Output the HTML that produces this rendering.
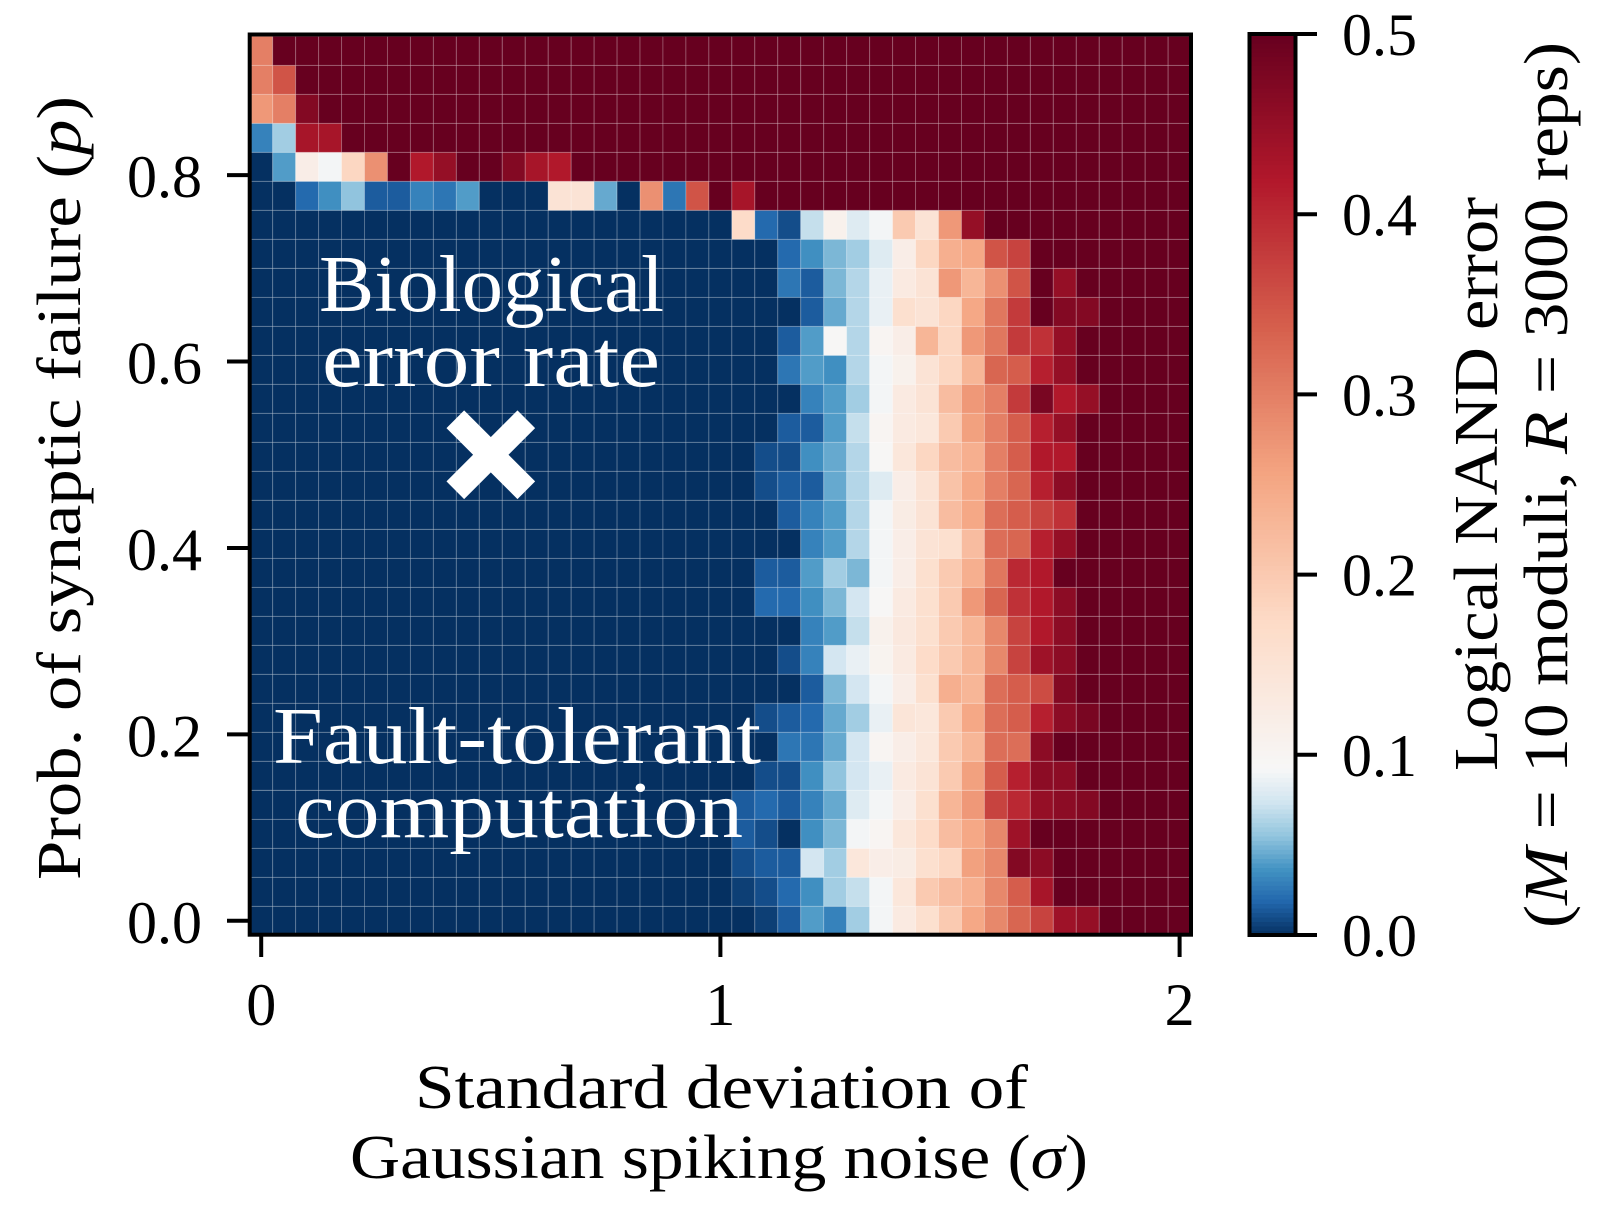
<!DOCTYPE html>
<html><head><meta charset="utf-8"><style>
html,body{margin:0;padding:0;background:#fff;}
svg{display:block;font-family:"Liberation Serif","DejaVu Serif",serif;}
</style></head><body>
<svg id="chart" width="1624" height="1222" viewBox="0 0 1624 1222" xmlns="http://www.w3.org/2000/svg">
<rect width="1624" height="1222" fill="#fff"/>
<g id="cells"></g>
<g id="annot">
<text x="319" y="311" font-size="80" fill="#fff" textLength="345" lengthAdjust="spacingAndGlyphs">Biological</text>
<text x="322" y="386" font-size="80" fill="#fff" textLength="338" lengthAdjust="spacingAndGlyphs">error rate</text>
<g id="xmark" stroke="#fff" stroke-width="25" stroke-linecap="butt"></g>
<text x="273" y="763" font-size="80" fill="#fff" textLength="488" lengthAdjust="spacingAndGlyphs">Fault-tolerant</text>
<text x="295" y="837" font-size="80" fill="#fff" textLength="448" lengthAdjust="spacingAndGlyphs">computation</text>
</g>
<rect x="249.7" y="34.5" width="941.3" height="900.2" fill="none" stroke="#000" stroke-width="4"/>
<g id="xaxis"></g>
<g id="yaxis"></g>
<text x="415" y="1108" font-size="62" textLength="613" lengthAdjust="spacingAndGlyphs">Standard deviation of</text>
<text x="350" y="1178" font-size="62" textLength="738" lengthAdjust="spacingAndGlyphs">Gaussian spiking noise (<tspan font-style="italic">σ</tspan>)</text>
<text transform="translate(80,880) rotate(-90)" font-size="62" textLength="784" lengthAdjust="spacingAndGlyphs">Prob. of synaptic failure (<tspan font-style="italic">p</tspan>)</text>
<g id="cbar"></g>
<text transform="translate(1497,771) rotate(-90)" font-size="62" textLength="574" lengthAdjust="spacingAndGlyphs">Logical NAND error</text>
<text transform="translate(1567,928) rotate(-90)" font-size="62" textLength="886" lengthAdjust="spacingAndGlyphs">(<tspan font-style="italic">M</tspan> = 10 moduli, <tspan font-style="italic">R</tspan> = 3000 reps)</text>
</svg>
<script>
const NS = "http://www.w3.org/2000/svg";
const sigmaValues = [0,0.05,0.1,0.15,0.2,0.25,0.3,0.35,0.4,0.45,0.5,0.55,0.6,0.65,0.7,0.75,0.8,0.85,0.9,0.95,1.0,1.05,1.1,1.15,1.2,1.25,1.3,1.35,1.4,1.45,1.5,1.55,1.6,1.65,1.7,1.75,1.8,1.85,1.9,1.95,2.0];
const pValues = [0,0.0311,0.0622,0.0933,0.1244,0.1556,0.1867,0.2178,0.2489,0.28,0.3111,0.3422,0.3733,0.4044,0.4356,0.4667,0.4978,0.5289,0.56,0.5911,0.6222,0.6533,0.6844,0.7156,0.7467,0.7778,0.8089,0.84,0.8711,0.9022,0.9333];
const xTicks = [0,1,2];
const xTickLabels = ["0","1","2"];
const yTicks = [0,0.2,0.4,0.6,0.8];
const yTickLabels = ["0.0","0.2","0.4","0.6","0.8"];
const cbarTicks = [0,0.1,0.2,0.3,0.4,0.5];
const cbarTickLabels = ["0.0","0.1","0.2","0.3","0.4","0.5"];
const markerSigma = [0.50];
const markerP = [0.5];
const errGrid = [
[0,0,0,0,0,0,0,0,0,0,0,0,0,0,0,0,0,0,0,0,0,0,.005,.015,.04,.03,.06,.09,.13,.16,.2,.25,.29,.33,.37,.44,.45,.5,.5,.5,.5],
[0,0,0,0,0,0,0,0,0,0,0,0,0,0,0,0,0,0,0,0,0,.005,.01,.02,.035,.06,.07,.09,.14,.2,.22,.24,.29,.34,.43,.5,.5,.5,.5,.5,.5],
[0,0,0,0,0,0,0,0,0,0,0,0,0,0,0,0,0,0,0,0,0,.01,.015,.015,.075,.06,.14,.12,.125,.16,.18,.26,.29,.47,.46,.5,.5,.5,.5,.5,.5],
[0,0,0,0,0,0,0,0,0,0,0,0,0,0,0,0,0,0,0,0,0,.015,.01,0,.035,.05,.09,.1,.14,.17,.22,.25,.29,.44,.5,.5,.5,.5,.5,.5,.5],
[0,0,0,0,0,0,0,0,0,0,0,0,0,0,0,0,0,0,0,0,0,.015,.02,.015,.03,.045,.08,.09,.12,.16,.23,.27,.37,.4,.45,.46,.47,.5,.5,.5,.5],
[0,0,0,0,0,0,0,0,0,0,0,0,0,0,0,0,0,0,0,0,0,0,.01,.01,.035,.055,.075,.085,.13,.15,.2,.26,.34,.41,.46,.46,.5,.5,.5,.5,.5],
[0,0,0,0,0,0,0,0,0,0,0,0,0,0,0,0,0,0,0,0,0,0,0,.025,.025,.045,.075,.1,.12,.14,.2,.23,.32,.32,.46,.5,.5,.5,.5,.5,.5],
[0,0,0,0,0,0,0,0,0,0,0,0,0,0,0,0,0,0,0,0,0,0,.01,.015,.02,.045,.06,.085,.145,.14,.2,.25,.32,.34,.41,.46,.48,.5,.5,.5,.5],
[0,0,0,0,0,0,0,0,0,0,0,0,0,0,0,0,0,0,0,0,0,0,0,0,.015,.05,.075,.09,.12,.16,.24,.23,.32,.34,.36,.47,.5,.5,.5,.5,.5],
[0,0,0,0,0,0,0,0,0,0,0,0,0,0,0,0,0,0,0,0,0,0,0,.01,.03,.075,.085,.105,.13,.17,.2,.23,.29,.37,.44,.46,.5,.5,.5,.5,.5],
[0,0,0,0,0,0,0,0,0,0,0,0,0,0,0,0,0,0,0,0,0,0,0,0,.03,.04,.07,.11,.135,.16,.2,.23,.29,.37,.42,.46,.5,.5,.5,.5,.5],
[0,0,0,0,0,0,0,0,0,0,0,0,0,0,0,0,0,0,0,0,0,0,.02,.02,.035,.05,.075,.095,.13,.16,.2,.27,.33,.39,.42,.46,.5,.5,.5,.5,.5],
[0,0,0,0,0,0,0,0,0,0,0,0,0,0,0,0,0,0,0,0,0,0,.015,.015,.04,.06,.05,.09,.12,.16,.2,.24,.31,.4,.42,.5,.5,.5,.5,.5,.5],
[0,0,0,0,0,0,0,0,0,0,0,0,0,0,0,0,0,0,0,0,0,0,0,0,.03,.04,.065,.09,.12,.15,.16,.22,.32,.33,.41,.45,.5,.5,.5,.5,.5],
[0,0,0,0,0,0,0,0,0,0,0,0,0,0,0,0,0,0,0,0,0,0,0,.015,.03,.04,.065,.09,.125,.15,.22,.25,.32,.34,.37,.39,.5,.5,.5,.5,.5],
[0,0,0,0,0,0,0,0,0,0,0,0,0,0,0,0,0,0,0,0,0,0,.01,.015,.015,.045,.065,.08,.12,.15,.21,.25,.3,.33,.41,.46,.5,.5,.5,.5,.5],
[0,0,0,0,0,0,0,0,0,0,0,0,0,0,0,0,0,0,0,0,0,0,.01,.01,.035,.045,.065,.095,.14,.18,.22,.24,.3,.34,.42,.42,.5,.5,.5,.5,.5],
[0,0,0,0,0,0,0,0,0,0,0,0,0,0,0,0,0,0,0,0,0,0,0,.015,.015,.04,.07,.1,.13,.14,.2,.26,.3,.34,.41,.45,.5,.5,.5,.5,.5],
[0,0,0,0,0,0,0,0,0,0,0,0,0,0,0,0,0,0,0,0,0,0,0,0,.03,.04,.06,.09,.13,.15,.22,.27,.3,.38,.48,.42,.45,.5,.5,.5,.5],
[0,0,0,0,0,0,0,0,0,0,0,0,0,0,0,0,0,0,0,0,0,0,0,.025,.04,.035,.065,.09,.11,.15,.18,.23,.33,.34,.41,.45,.5,.5,.5,.5,.5],
[0,0,0,0,0,0,0,0,0,0,0,0,0,0,0,0,0,0,0,0,0,0,0,.015,.04,.095,.065,.1,.12,.23,.18,.27,.31,.38,.39,.45,.5,.5,.5,.5,.5],
[0,0,0,0,0,0,0,0,0,0,0,0,0,0,0,0,0,0,0,0,0,0,0,0,.015,.045,.065,.085,.16,.15,.18,.25,.31,.38,.5,.47,.47,.5,.5,.5,.5],
[0,0,0,0,0,0,0,0,0,0,0,0,0,0,0,0,0,0,0,0,0,0,0,.025,.015,.05,.065,.085,.13,.15,.27,.23,.28,.35,.5,.45,.5,.5,.5,.5,.5],
[0,0,0,0,0,0,0,0,0,0,0,0,0,0,0,0,0,0,0,0,0,0,0,.02,.035,.05,.06,.08,.12,.18,.24,.25,.35,.37,.5,.5,.5,.5,.5,.5,.5],
[0,0,0,0,0,0,0,0,0,0,0,0,0,0,0,0,0,0,0,0,0,.17,.02,.01,.07,.11,.08,.09,.2,.15,.27,.45,.5,.5,.5,.5,.5,.5,.5,.5,.5],
[0,0,.02,.035,.055,.015,.015,.03,.025,.04,0,0,0,.15,.15,.045,0,.28,.025,.35,.5,.43,.5,.5,.5,.5,.5,.5,.5,.5,.5,.5,.5,.5,.5,.5,.5,.5,.5,.5,.5],
[0,.04,.12,.09,.18,.28,.5,.42,.45,.5,.5,.47,.43,.42,.5,.5,.5,.5,.5,.5,.5,.5,.5,.5,.5,.5,.5,.5,.5,.5,.5,.5,.5,.5,.5,.5,.5,.5,.5,.5,.5],
[.03,.06,.43,.43,.5,.5,.5,.5,.5,.5,.5,.5,.5,.5,.5,.5,.5,.5,.5,.5,.5,.5,.5,.5,.5,.5,.5,.5,.5,.5,.5,.5,.5,.5,.5,.5,.5,.5,.5,.5,.5],
[.27,.3,.47,.5,.5,.5,.5,.5,.5,.5,.5,.5,.5,.5,.5,.5,.5,.5,.5,.5,.5,.5,.5,.5,.5,.5,.5,.5,.5,.5,.5,.5,.5,.5,.5,.5,.5,.5,.5,.5,.5],
[.3,.35,.5,.5,.5,.5,.5,.5,.5,.5,.5,.5,.5,.5,.5,.5,.5,.5,.5,.5,.5,.5,.5,.5,.5,.5,.5,.5,.5,.5,.5,.5,.5,.5,.5,.5,.5,.5,.5,.5,.5],
[.3,.5,.5,.5,.5,.5,.5,.5,.5,.5,.5,.5,.5,.5,.5,.5,.5,.5,.5,.5,.5,.5,.5,.5,.5,.5,.5,.5,.5,.5,.5,.5,.5,.5,.5,.5,.5,.5,.5,.5,.5]
];

const RDBU = ["#053061","#2166ac","#4393c3","#92c5de","#d1e5f0","#f7f7f7","#fddbc7","#f4a582","#d6604d","#b2182b","#67001f"];
const VMIN = 0, VCENTER = 0.092, VMAX = 0.5;
function norm(v){ v=Math.max(VMIN,Math.min(VMAX,v)); return v<VCENTER ? 0.5*(v-VMIN)/(VCENTER-VMIN) : 0.5+0.5*(v-VCENTER)/(VMAX-VCENTER); }
function hex(h){return [parseInt(h.slice(1,3),16),parseInt(h.slice(3,5),16),parseInt(h.slice(5,7),16)];}
function cmap(v){ const t=norm(v)*10; const i=Math.min(9,Math.floor(t)); const f=t-i; const a=hex(RDBU[i]),b=hex(RDBU[i+1]);
  return "rgb("+a.map((c,k)=>Math.round(c+(b[k]-c)*f)).join(",")+")"; }

const xScale = s => 261.2 + 459.2*s;
const yScale = p => 920.8 - 932.1*p;
const cellW = xScale(0.05)-xScale(0);
const cellH = yScale(0)-yScale(0.0311);
const cbarY = v => 935 - 1802*v;

function mk(tag, attrs, parent){ const e=document.createElementNS(NS,tag); for(const k in attrs) e.setAttribute(k,attrs[k]); parent.appendChild(e); return e; }

const cells = document.getElementById('cells');
for (let r=0;r<pValues.length;r++){
  for (let c=0;c<sigmaValues.length;c++){
    const v = errGrid[r][c];
    const e = mk('rect',{x:(xScale(sigmaValues[c])-cellW/2).toFixed(2), y:(yScale(pValues[r])-cellH/2).toFixed(2), width:cellW.toFixed(2), height:cellH.toFixed(2), fill:cmap(v), stroke:"rgba(255,255,255,0.22)", "stroke-width":"1"}, cells);
    
    
  }
}

const xm = document.getElementById('xmark');
const mx = xScale(markerSigma[0]), my = yScale(markerP[0]), d = 35.5;
const l1 = mk('line',{x1:mx-d,y1:my-d,x2:mx+d,y2:my+d}, xm);


const l2 = mk('line',{x1:mx-d,y1:my+d,x2:mx+d,y2:my-d}, xm);



const xa = document.getElementById('xaxis');
xTicks.forEach((t,i)=>{
  const x = xScale(t);
  const tk = mk('line',{x1:x,y1:934,x2:x,y2:957,stroke:"#000","stroke-width":4}, xa);
  
  
  const tl = mk('text',{x:x,y:1025,"font-size":60,"text-anchor":"middle"}, xa);
  tl.textContent = xTickLabels[i];
  
  
});
const ya = document.getElementById('yaxis');
yTicks.forEach((t,i)=>{
  const y = yScale(t);
  const tk = mk('line',{x1:227,y1:y,x2:250,y2:y,stroke:"#000","stroke-width":4}, ya);
  
  
  const tl = mk('text',{x:202,y:y+22,"font-size":60,"text-anchor":"end"}, ya);
  tl.textContent = yTickLabels[i];
  
  
});

const cb = document.getElementById('cbar');
const N = 200;
for (let k=0;k<N;k++){
  const v0 = k/N*0.5, v1=(k+1)/N*0.5;
  const e = mk('rect',{x:1250,y:cbarY(v1)-0.5,width:45,height:cbarY(v0)-cbarY(v1)+1,fill:cmap((v0+v1)/2)}, cb);
  
  
}
const cbf = mk('rect',{x:1249.5,y:34,width:46,height:901,fill:"none",stroke:"#000","stroke-width":4}, cb);


cbarTicks.forEach((t,i)=>{
  const y = cbarY(t);
  const tk = mk('line',{x1:1295,y1:y,x2:1317,y2:y,stroke:"#000","stroke-width":4}, cb);
  
  
  const tl = mk('text',{x:1342,y:y+21,"font-size":60}, cb);
  tl.textContent = cbarTickLabels[i];
  
  
});
</script>
</body></html>
